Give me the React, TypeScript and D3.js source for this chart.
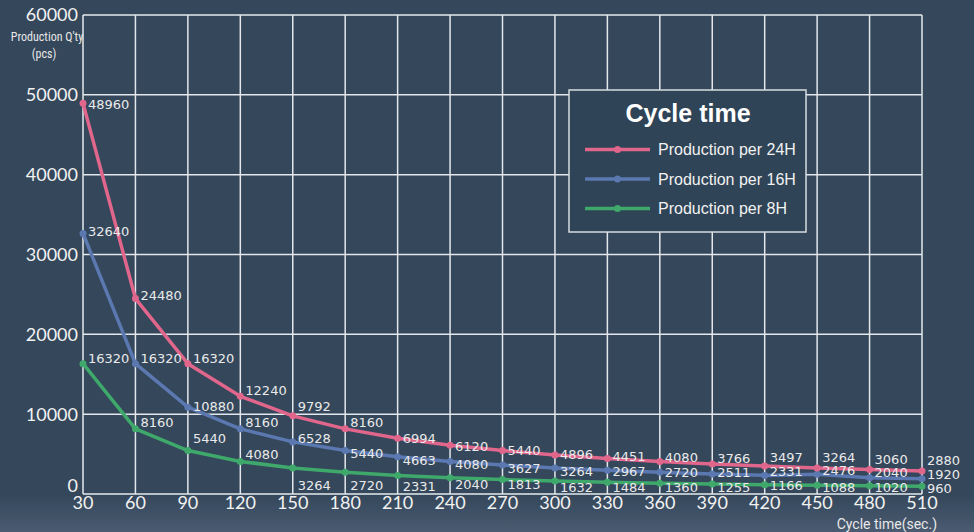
import { useEffect, useRef } from 'react';
import * as d3 from 'd3';

// Cycle time (sec.)
const cycleTimes = [30, 60, 90, 120, 150, 180, 210, 240, 270, 300, 330, 360, 390, 420, 450, 480, 510];

// Production quantity (pcs)
const per24H = [48960, 24480, 16320, 12240, 9792, 8160, 6994, 6120, 5440, 4896, 4451, 4080, 3766, 3497, 3264, 3060, 2880];
const per16H = [32640, 16320, 10880, 8160, 6528, 5440, 4663, 4080, 3627, 3264, 2967, 2720, 2511, 2331, 2476, 2040, 1920];
const per8H = [16320, 8160, 5440, 4080, 3264, 2720, 2331, 2040, 1813, 1632, 1484, 1360, 1255, 1166, 1088, 1020, 960];

const seriesNames = ['Production per 24H', 'Production per 16H', 'Production per 8H'];
const yTicks = [0, 10000, 20000, 30000, 40000, 50000, 60000];

// label vertical nudges (px) so the value labels don't collide
const labelDy24 = [1, -3, -5, -6, -10, -7, 0, 1, 0, -1, -2, -4, -6, -9, -11, -10, -11];
const labelDy16 = [-2, -5, -1, -7, -4, 3, 4, 3, 3, 3, 1, 0, -2, -4, -4, -5, -4];
const labelDy8 = [-5, -7, -12, -7, 17, 13, 11, 7, 5, 6, 5, 4, 3, 1, 2, 1, 2];

const colors = ['#e0668c', '#5b78b0', '#3fa96b'];

export default function App() {
  const svgRef = useRef<SVGSVGElement>(null);

  useEffect(() => {
    if (!svgRef.current) return;
    document.body.style.margin = '0';

    const width = 974;
    const height = 532;
    const svg = d3.select(svgRef.current);
    svg.selectAll('*').remove();
    svg.attr('width', width).attr('height', height);

    // Background + bottom gradient
    const defs = svg.append('defs');
    const grad = defs
      .append('linearGradient')
      .attr('id', 'bg')
      .attr('x1', 0)
      .attr('y1', 0)
      .attr('x2', 0)
      .attr('y2', 1);
    grad.append('stop').attr('offset', '0%').attr('stop-color', '#34475b');
    grad.append('stop').attr('offset', '93%').attr('stop-color', '#34475b');
    grad.append('stop').attr('offset', '100%').attr('stop-color', '#4b5b71');
    svg.append('rect').attr('width', width).attr('height', height).attr('fill', 'url(#bg)');

    const x = d3.scaleLinear().domain([30, 510]).range([83, 922]);
    const y = d3.scaleLinear().domain([0, 60000]).range([494, 15]);

    // Grid
    const grid = svg.append('g').attr('stroke', '#e4e8ec').attr('stroke-width', 1.5);
    grid
      .selectAll('.vg')
      .data(cycleTimes)
      .enter()
      .append('line')
      .attr('x1', (d) => x(d))
      .attr('x2', (d) => x(d))
      .attr('y1', y(60000))
      .attr('y2', y(0));
    grid
      .selectAll('.hg')
      .data(yTicks)
      .enter()
      .append('line')
      .attr('x1', x(30))
      .attr('x2', x(510))
      .attr('y1', (d) => y(d))
      .attr('y2', (d) => y(d));

    // Y tick labels
    svg
      .append('g')
      .selectAll('text')
      .data(yTicks)
      .enter()
      .append('text')
      .attr('x', x(30) - 5)
      .attr('y', (d) => y(d) + (d === 0 ? -8 : 0))
      .attr('dy', '0.36em')
      .attr('text-anchor', 'end')
      .attr('fill', '#f2f2f2')
      .attr('font-family', 'Lato, sans-serif')
      .attr('font-size', '18px')
      .text((d) => d);

    // X tick labels
    svg
      .append('g')
      .selectAll('text')
      .data(cycleTimes)
      .enter()
      .append('text')
      .attr('x', (d) => x(d))
      .attr('y', 503)
      .attr('dy', '0.36em')
      .attr('text-anchor', 'middle')
      .attr('fill', '#f2f2f2')
      .attr('font-family', 'Lato, sans-serif')
      .attr('font-size', '18px')
      .text((d) => d);

    // Axis titles
    svg
      .append('text')
      .attr('x', 47)
      .attr('y', 37)
      .attr('dy', '0.35em')
      .attr('text-anchor', 'middle')
      .attr('fill', '#e8e8e8')
      .attr('font-family', '"Liberation Sans Narrow", "Roboto Condensed", sans-serif')
      .attr('font-size', '12px')
      .text("Production Q'ty");
    svg
      .append('text')
      .attr('x', 44)
      .attr('y', 54)
      .attr('dy', '0.35em')
      .attr('text-anchor', 'middle')
      .attr('fill', '#e8e8e8')
      .attr('font-family', '"Liberation Sans Narrow", "Roboto Condensed", sans-serif')
      .attr('font-size', '12px')
      .text('(pcs)');
    svg
      .append('text')
      .attr('x', 937)
      .attr('y', 524)
      .attr('dy', '0.35em')
      .attr('text-anchor', 'end')
      .attr('fill', '#e8e8e8')
      .attr('font-family', 'Roboto, sans-serif')
      .attr('font-size', '14px')
      .text('Cycle time(sec.)');

    // Series
    const series = [per24H, per16H, per8H];
    const labelDys = [labelDy24, labelDy16, labelDy8];
    const line = d3
      .line<number>()
      .x((_, i) => x(cycleTimes[i]))
      .y((d) => y(d));

    // draw bottom series first so 24H sits on top
    [2, 1, 0].forEach((s) => {
      const g = svg.append('g');
      g.append('path')
        .datum(series[s])
        .attr('d', line)
        .attr('fill', 'none')
        .attr('stroke', colors[s])
        .attr('stroke-width', 3.5)
        .attr('stroke-linejoin', 'round');
      g.selectAll('circle')
        .data(series[s])
        .enter()
        .append('circle')
        .attr('cx', (_, i) => x(cycleTimes[i]))
        .attr('cy', (d) => y(d))
        .attr('r', 3.5)
        .attr('fill', colors[s]);
    });

    [0, 1, 2].forEach((s) => {
      svg
        .append('g')
        .selectAll('text')
        .data(series[s])
        .enter()
        .append('text')
        .attr('x', (_, i) => x(cycleTimes[i]) + 5)
        .attr('y', (d, i) => y(d) + labelDys[s][i])
        .attr('dy', '0.36em')
        .attr('fill', '#eaeaea')
        .attr('font-family', '"DejaVu Sans", sans-serif')
        .attr('font-size', '13px')
        .text((d) => d);
    });

    // Legend
    const lg = svg.append('g');
    lg.append('rect')
      .attr('x', 569)
      .attr('y', 90)
      .attr('width', 237)
      .attr('height', 142)
      .attr('fill', '#2f4456')
      .attr('stroke', '#d6dbe0')
      .attr('stroke-width', 1.5);
    lg.append('text')
      .attr('x', 688)
      .attr('y', 113)
      .attr('dy', '0.36em')
      .attr('text-anchor', 'middle')
      .attr('fill', '#ffffff')
      .attr('font-family', '"Liberation Sans", Arial, sans-serif')
      .attr('font-weight', 'bold')
      .attr('font-size', '25px')
      .text('Cycle time');
    seriesNames.forEach((name, s) => {
      const ly = 149.5 + s * 29.5;
      lg.append('line')
        .attr('x1', 585)
        .attr('x2', 650)
        .attr('y1', ly)
        .attr('y2', ly)
        .attr('stroke', colors[s])
        .attr('stroke-width', 3.5);
      lg.append('circle').attr('cx', 617.5).attr('cy', ly).attr('r', 3.5).attr('fill', colors[s]);
      lg.append('text')
        .attr('x', 658)
        .attr('y', ly)
        .attr('dy', '0.36em')
        .attr('fill', '#f2f2f2')
        .attr('font-family', '"Liberation Sans", Arial, sans-serif')
        .attr('font-size', '16px')
        .text(name);
    });
  }, []);

  return (
    <div style={{ position: 'absolute', top: 0, left: 0 }}>
      <svg ref={svgRef} style={{ display: 'block' }} />
    </div>
  );
}
